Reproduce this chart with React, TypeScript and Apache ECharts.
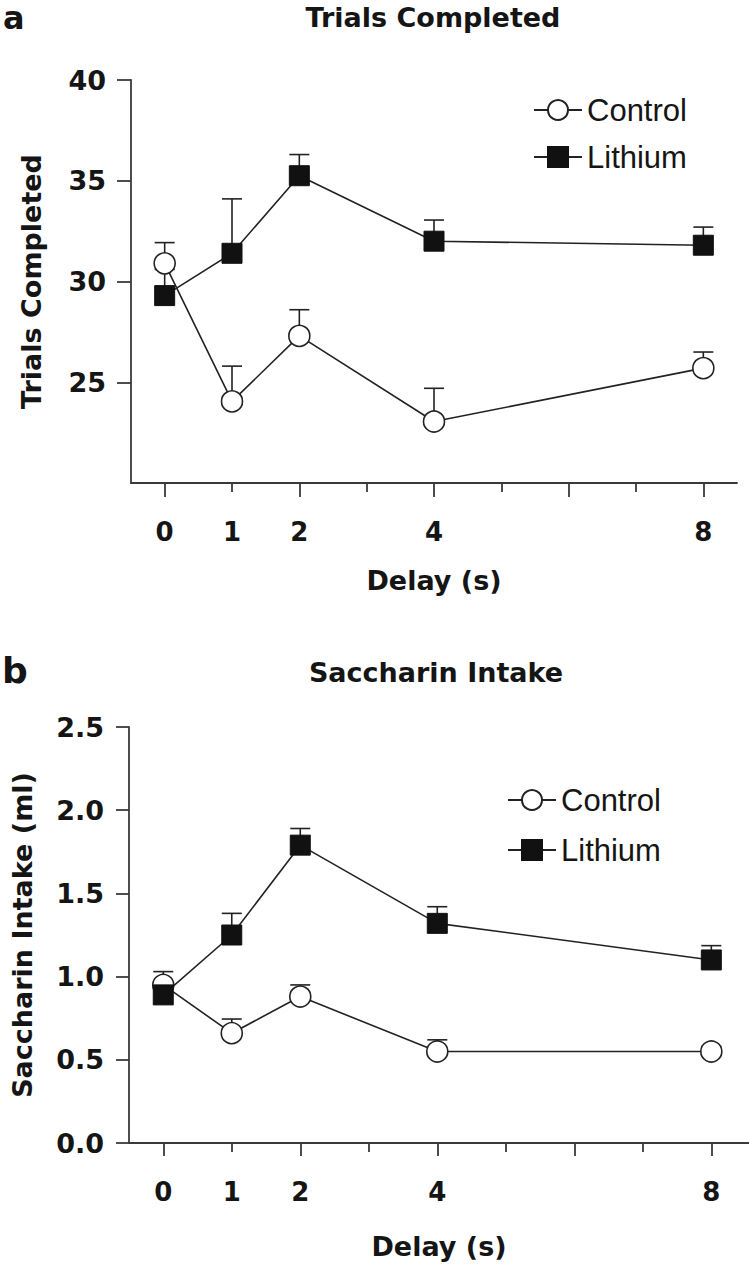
import React, { useEffect, useRef } from 'react';
import * as echarts from 'echarts';

// ---------- data ----------
const delays = [0, 1, 2, 4, 8];
const xLabelValues = [0, 1, 2, 4, 8];
const xMajorTicks = [0, 2, 4, 6, 8];
const xMinorTicks = [1, 3, 5, 7];
const trialsTicks = [25, 30, 35, 40];

const trialsControl = [30.9, 24.05, 27.3, 23.05, 25.7];
const trialsControlSE = [1.03, 1.75, 1.3, 1.65, 0.8];
const trialsLithium = [29.3, 31.4, 35.25, 32.0, 31.8];
const trialsLithiumSE = [1.3, 2.7, 1.05, 1.05, 0.9];

const intakeControl = [0.95, 0.66, 0.88, 0.55, 0.55];
const intakeControlSE = [0.08, 0.085, 0.07, 0.07, 0.03];
const intakeLithium = [0.89, 1.25, 1.79, 1.32, 1.1];
const intakeLithiumSE = [0.05, 0.13, 0.1, 0.1, 0.086];

const seriesNames = ['Control', 'Lithium'];

// ---------- styles ----------
const BOLD_FONT = 'DejaVu Sans';
const LEGEND_FONT = 'Liberation Sans';
const AXIS = '#3a3a3a';
const INK = '#151515';
const LINE = '#222222';

function pairs(xs: number[], ys: number[]) {
  return xs.map((x, i) => [x, ys[i]]);
}
function triples(xs: number[], ys: number[], es: number[]) {
  return xs.map((x, i) => [x, ys[i], es[i]]);
}

function errorBarSeries(xAxisIndex: number, yAxisIndex: number, data: number[][]) {
  return {
    type: 'custom',
    xAxisIndex,
    yAxisIndex,
    silent: true,
    z: 1,
    encode: { x: 0, y: 1 },
    data,
    renderItem: (params: any, api: any) => {
      const x = api.value(0);
      const y = api.value(1);
      const e = api.value(2);
      const p0 = api.coord([x, y]);
      const p1 = api.coord([x, y + e]);
      const st = { stroke: LINE, lineWidth: 1.6 };
      return {
        type: 'group',
        children: [
          { type: 'line', shape: { x1: p0[0], y1: p0[1], x2: p1[0], y2: p1[1] }, style: st },
          { type: 'line', shape: { x1: p1[0] - 10, y1: p1[1], x2: p1[0] + 10, y2: p1[1] }, style: st },
        ],
      };
    },
  };
}

function controlSeries(xAxisIndex: number, yAxisIndex: number, ys: number[]) {
  return {
    name: 'Control',
    type: 'line',
    xAxisIndex,
    yAxisIndex,
    z: 3,
    data: pairs(delays, ys),
    symbol: 'circle',
    symbolSize: 21,
    itemStyle: { color: '#ffffff', borderColor: LINE, borderWidth: 1.6 },
    lineStyle: { color: LINE, width: 1.6 },
  };
}

function lithiumSeries(xAxisIndex: number, yAxisIndex: number, ys: number[]) {
  return {
    name: 'Lithium',
    type: 'line',
    xAxisIndex,
    yAxisIndex,
    z: 4,
    data: pairs(delays, ys),
    symbol: 'rect',
    symbolSize: 20,
    itemStyle: { color: '#111111', borderColor: '#111111', borderWidth: 1 },
    lineStyle: { color: LINE, width: 1.6 },
  };
}

function xAxes(gridIndex: number, max: number, majorLen: number, nameGap: number) {
  return [
    {
      type: 'value',
      gridIndex,
      position: 'bottom',
      min: -0.5,
      max,
      splitLine: { show: false },
      axisLine: { show: true, onZero: false, lineStyle: { color: AXIS, width: 1.8 } },
      axisTick: { show: true, customValues: xMajorTicks, length: majorLen, lineStyle: { color: AXIS, width: 1.8 } },
      axisLabel: {
        customValues: xLabelValues,
        margin: 36,
        fontFamily: BOLD_FONT,
        fontWeight: 'bold',
        fontSize: 26,
        color: INK,
      },
      name: 'Delay (s)',
      nameLocation: 'middle',
      nameGap,
      nameTextStyle: { fontFamily: BOLD_FONT, fontWeight: 'bold', fontSize: 27, color: INK },
    },
    {
      type: 'value',
      gridIndex,
      position: 'bottom',
      offset: 0,
      min: -0.5,
      max,
      splitLine: { show: false },
      axisLine: { show: false, onZero: false },
      axisTick: { show: true, customValues: xMinorTicks, length: 9, lineStyle: { color: AXIS, width: 1.8 } },
      axisLabel: { show: false },
    },
  ];
}

function legendFor(left: number, top: number, gap: number) {
  return {
    data: seriesNames,
    orient: 'vertical',
    left,
    top,
    padding: 0,
    itemWidth: 48,
    itemHeight: 25,
    itemGap: gap,
    selectedMode: false,
    textStyle: { fontFamily: LEGEND_FONT, fontSize: 31, color: INK },
  };
}

function textEl(text: string, x: number, y: number, size: number, align: string, vAlign: string) {
  return {
    type: 'text',
    x,
    y,
    silent: true,
    style: {
      text,
      fontFamily: BOLD_FONT,
      fontWeight: 'bold',
      fontSize: size,
      fill: INK,
      align,
      verticalAlign: vAlign,
      textAlign: align,
      textVerticalAlign: vAlign,
    },
  };
}

export default function App() {
  const ref = useRef<HTMLDivElement>(null);

  useEffect(() => {
    if (!ref.current) return;
    const chart = echarts.init(ref.current, null, { renderer: 'svg' });

    const option: any = {
      animation: false,
      backgroundColor: '#ffffff',
      graphic: [
        textEl('a', 3, 2, 32, 'left', 'top'),
        textEl('Trials Completed', 433, 17, 27, 'center', 'middle'),
        textEl('b', 2, 670, 36, 'left', 'middle'),
        textEl('Saccharin Intake', 436, 672, 27, 'center', 'middle'),
      ],
      legend: [legendFor(533, 94.5, 16), legendFor(507, 784.5, 19)],
      grid: [
        { left: 131, top: 80, width: 606, height: 403 },
        { left: 129, top: 727, width: 620, height: 416 },
      ],
      xAxis: [...xAxes(0, 8.5, 14, 84), ...xAxes(1, 8.55, 13, 90)],
      yAxis: [
        {
          type: 'value',
          gridIndex: 0,
          min: 20,
          max: 40,
          splitLine: { show: false },
          axisLine: { show: true, onZero: false, lineStyle: { color: AXIS, width: 1.8 } },
          axisTick: { show: true, customValues: trialsTicks, length: 14, lineStyle: { color: AXIS, width: 1.8 } },
          axisLabel: {
            customValues: trialsTicks,
            margin: 25,
            fontFamily: BOLD_FONT,
            fontWeight: 'bold',
            fontSize: 27,
            color: INK,
          },
          name: 'Trials Completed',
          nameLocation: 'middle',
          nameGap: 86,
          nameTextStyle: { fontFamily: BOLD_FONT, fontWeight: 'bold', fontSize: 27, color: INK },
        },
        {
          type: 'value',
          gridIndex: 1,
          min: 0,
          max: 2.5,
          interval: 0.5,
          splitLine: { show: false },
          axisLine: { show: true, onZero: false, lineStyle: { color: AXIS, width: 1.8 } },
          axisTick: { show: true, length: 13, lineStyle: { color: AXIS, width: 1.8 } },
          axisLabel: {
            margin: 25,
            fontFamily: BOLD_FONT,
            fontWeight: 'bold',
            fontSize: 27,
            color: INK,
            formatter: (v: number) => v.toFixed(1),
          },
          name: 'Saccharin Intake (ml)',
          nameLocation: 'middle',
          nameGap: 93,
          nameTextStyle: { fontFamily: BOLD_FONT, fontWeight: 'bold', fontSize: 27, color: INK },
        },
      ],
      series: [
        errorBarSeries(0, 0, triples(delays, trialsControl, trialsControlSE)),
        errorBarSeries(0, 0, triples(delays, trialsLithium, trialsLithiumSE)),
        controlSeries(0, 0, trialsControl),
        lithiumSeries(0, 0, trialsLithium),
        errorBarSeries(2, 1, triples(delays, intakeControl, intakeControlSE)),
        errorBarSeries(2, 1, triples(delays, intakeLithium, intakeLithiumSE)),
        controlSeries(2, 1, intakeControl),
        lithiumSeries(2, 1, intakeLithium),
      ],
    };

    chart.setOption(option);
    return () => chart.dispose();
  }, []);

  return (
    <div
      ref={ref}
      style={{ position: 'absolute', left: 0, top: 0, width: 749, height: 1267, background: '#fff' }}
    />
  );
}
